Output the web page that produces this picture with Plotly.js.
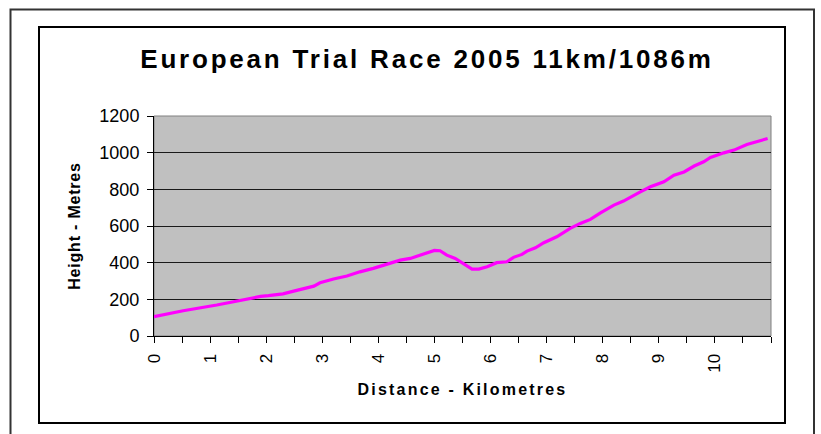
<!DOCTYPE html>
<html>
<head>
<meta charset="utf-8">
<script src="https://cdn.plot.ly/plotly-3.0.1.min.js"></script>
<style>
  html, body { margin: 0; padding: 0; background: #fff; }
  #chart { width: 821px; height: 434px; }
  .gtitle { letter-spacing: 2.8px; }
  .xtitle { letter-spacing: 2.2px; }
  .ytitle { letter-spacing: 0.8px; }
</style>
</head>
<body>
<div id="chart"></div>
<script>
const distanceKm = [0, 0.52, 1.12, 1.54, 1.9, 2.04, 2.3, 2.49, 2.72, 2.85, 2.96, 3.2, 3.44, 3.67, 3.91, 4.15, 4.39, 4.57, 4.75, 4.87, 5.0, 5.1, 5.22, 5.37, 5.52, 5.67, 5.79, 5.94, 6.11, 6.29, 6.41, 6.56, 6.65, 6.8, 6.95, 7.18, 7.42, 7.6, 7.78, 7.96, 8.2, 8.37, 8.67, 8.85, 9.09, 9.27, 9.45, 9.63, 9.8, 9.92, 10.16, 10.34, 10.57, 10.75, 10.94];
const heightM = [105, 138, 169, 196, 216, 220, 230, 245, 265, 272, 290, 311, 327, 350, 369, 392, 414, 423, 441, 450, 467, 465, 441, 423, 396, 365, 365, 378, 400, 405, 429, 445, 463, 481, 509, 541, 587, 614, 636, 672, 714, 736, 786, 814, 841, 877, 895, 927, 950, 974, 999, 1014, 1045, 1059, 1077];
const xTickLabels = ['0','1','2','3','4','5','6','7','8','9','10'];
const yTickValues = [0, 200, 400, 600, 800, 1000, 1200];

const titleText = 'European Trial Race 2005 11km/1086m';
const xTitle = 'Distance - Kilometres';
const yTitle = 'Height - Metres';

const W = 821, H = 434;
const M = {l: 154, r: 50, t: 116, b: 98};
const PW = W - M.l - M.r, PH = H - M.t - M.b;
const px = v => (v - M.l) / PW;
const py = v => (H - M.b - v) / PH;

const FONT = 'Liberation Sans, Arial, Helvetica, sans-serif';

const trace = {
  x: distanceKm,
  y: heightM,
  type: 'scatter',
  mode: 'lines',
  line: {color: '#FF00FF', width: 3.2, shape: 'linear'},
  hoverinfo: 'x+y',
  showlegend: false
};

const layout = {
  width: W, height: H,
  margin: M,
  paper_bgcolor: '#FFFFFF',
  plot_bgcolor: '#C0C0C0',
  font: {family: FONT, color: '#000'},
  title: {
    text: '<b>' + titleText + '</b>',
    font: {family: FONT, size: 26, color: '#000'},
    xref: 'container', x: 427 / W, xanchor: 'center',
    yref: 'container', y: 1 - 59 / H, yanchor: 'middle'
  },
  xaxis: {
    range: [0, 11],
    tickmode: 'array',
    tickvals: xTickLabels.map(Number),
    ticktext: xTickLabels,
    tickangle: -90,
    ticks: 'outside', ticklen: 6, tickcolor: '#000', tickwidth: 1,
    minor: {dtick: 0.5, tick0: 0, ticks: 'outside', ticklen: 6, tickcolor: '#000', tickwidth: 1, showgrid: false},
    tickfont: {family: FONT, size: 17, color: '#000'},
    ticklabelstandoff: 4,
    showgrid: false, zeroline: false,
    showline: true, linecolor: '#000', linewidth: 1,
    title: {text: '<b>' + xTitle + '</b>', font: {family: FONT, size: 16, color: '#000'}, standoff: 12},
    fixedrange: true
  },
  yaxis: {
    range: [0, 1200],
    tickmode: 'array',
    tickvals: yTickValues,
    ticktext: yTickValues.map(String),
    ticks: 'outside', ticklen: 6, tickcolor: '#000', tickwidth: 1,
    tickfont: {family: FONT, size: 18, color: '#000'},
    ticklabelstandoff: 4,
    showgrid: true, gridcolor: '#1a1a1a', gridwidth: 1,
    zeroline: false,
    showline: true, linecolor: '#000', linewidth: 1,
    title: {text: '<b>' + yTitle + '</b>', font: {family: FONT, size: 16, color: '#000'}, standoff: 14},
    fixedrange: true
  },
  shapes: [
    // plot-area right/top border (grey)
    {type: 'rect', xref: 'paper', yref: 'paper', x0: 0, x1: 1, y0: 0, y1: 1,
     line: {color: '#808080', width: 1}, fillcolor: 'rgba(0,0,0,0)', layer: 'below'},
    // inner chart frame
    {type: 'rect', xref: 'paper', yref: 'paper', x0: px(39), x1: px(785), y0: py(423), y1: py(27),
     line: {color: '#000', width: 2}, fillcolor: 'rgba(0,0,0,0)'},
    // outer page frame
    {type: 'rect', xref: 'paper', yref: 'paper', x0: px(10.5), x1: px(814), y0: py(460), y1: py(9.5),
     line: {color: '#333', width: 2}, fillcolor: 'rgba(0,0,0,0)'}
  ]
};

Plotly.newPlot('chart', [trace], layout, {displayModeBar: false, staticPlot: true});
</script>
</body>
</html>
